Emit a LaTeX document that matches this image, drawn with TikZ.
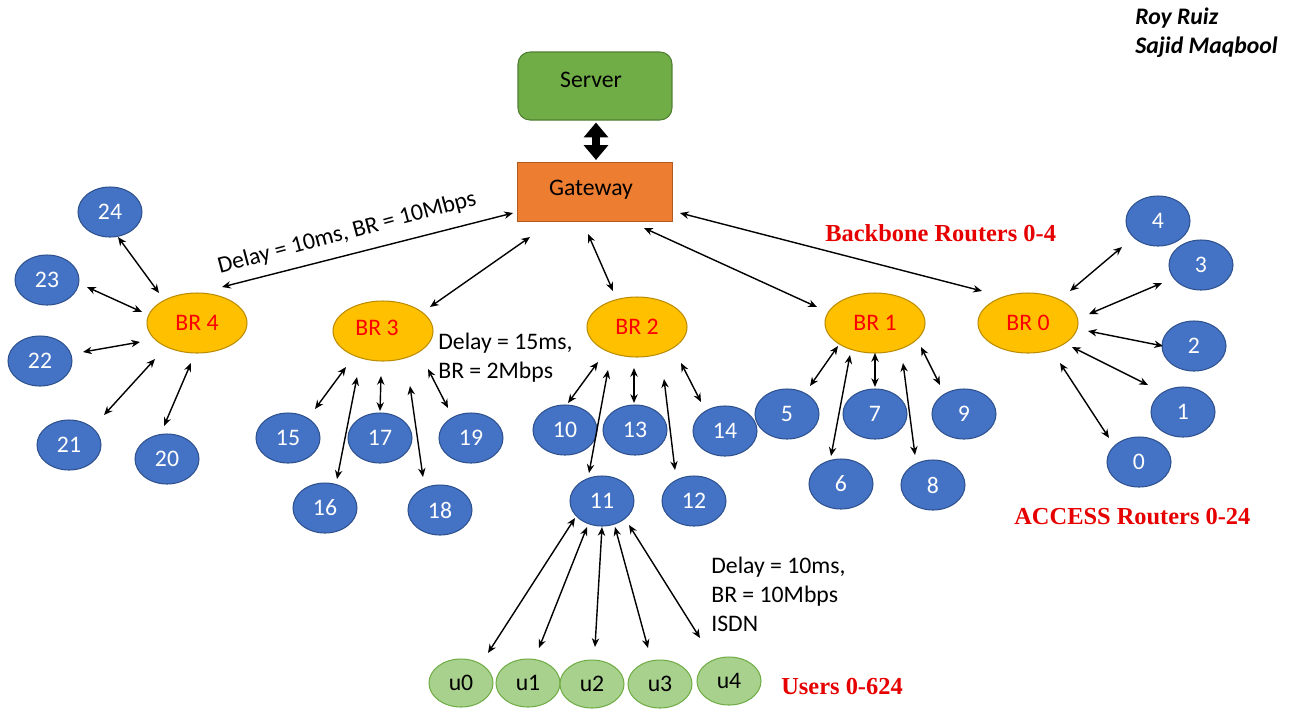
\documentclass[tikz,border=0pt]{standalone}
\usepackage{fontspec}
\setmainfont{Carlito}
\newfontfamily\tnr{Liberation Serif}
\usetikzlibrary{shapes.geometric,arrows.meta,calc}
\definecolor{accblue}{HTML}{4472C4}
\definecolor{accborder}{HTML}{2F528F}
\definecolor{brgold}{HTML}{FFC000}
\definecolor{brborder}{HTML}{BC8C00}
\definecolor{srvgreen}{HTML}{70AD47}
\definecolor{srvborder}{HTML}{507E32}
\definecolor{gwor}{HTML}{ED7D31}
\definecolor{gwborder}{HTML}{AE5A21}
\definecolor{usrfill}{HTML}{A9D18E}
\definecolor{usrborder}{HTML}{70AD47}
\definecolor{lblred}{HTML}{FF0000}
\definecolor{serred}{HTML}{E60000}
\newcommand{\basefont}{\fontsize{13.5}{16}\selectfont}
\begin{document}
\begin{tikzpicture}[x=0.02cm,y=-0.02cm,
  every node/.style={font=\basefont},
  acc/.style={ellipse, fill=accblue, draw=accborder, line width=0.6pt,
    minimum width=1.28cm, minimum height=1.0cm, inner sep=0pt, text=white},
  brn/.style={ellipse, fill=brgold, draw=brborder, line width=0.6pt,
    minimum width=2.0cm, minimum height=1.2cm, inner sep=0pt, text=lblred},
  usr/.style={ellipse, fill=usrfill, draw=usrborder, line width=0.6pt,
    minimum width=1.28cm, minimum height=0.96cm, inner sep=0pt, text=black},
  srv/.style={rectangle, rounded corners=0.24cm, fill=srvgreen, draw=srvborder,
    line width=0.6pt, minimum width=3.08cm, minimum height=1.36cm},
  gw/.style={rectangle, fill=gwor, draw=gwborder, line width=0.6pt,
    minimum width=3.1cm, minimum height=1.18cm},
  link/.style={>={Stealth[length=5pt,width=4.2pt]}, <->, line width=0.8pt},
  bigarrow/.style={>={Triangle[length=8.5pt,width=13.6pt]}, <->, line width=5pt},
  redlbl/.style={font=\tnr\bfseries\fontsize{13.9}{16}\selectfont, text=serred, anchor=west, inner sep=0pt},
  notes/.style={align=left, anchor=west, inner sep=0pt, font=\fontsize{13.5}{16.6}\selectfont}
]
\useasboundingbox (0,0) rectangle (1289,725);
\fill[white] (0,0) rectangle (1289,725);

% server and gateway
\node[srv] (server) at (595,86) {};
\node (servertext) at (591,80) {Server};
\node[gw] (gateway) at (595,192) {};
\node (gwtext) at (591,190) {Gateway};
\draw[bigarrow] ($(server.south)+(1,2)$) -- ($(gateway.north)+(1,-2)$);

% backbone routers
\node[brn] (br4) at (197,323) {BR 4};
\node[brn] (br3) at (383,331) {};
\node (br3text) at (377,328) {\textcolor{lblred}{BR 3}};
\node[brn] (br2) at (637,327) {BR 2};
\node[brn] (br1) at (875,323) {BR 1};
\node[brn] (br0) at (1028,323) {BR 0};

% access routers
\node[acc] (n24) at (110,212) {24};
\node[acc] (n23) at (47,280) {23};
\node[acc] (n22) at (40,361) {22};
\node[acc] (n21) at (69,445) {21};
\node[acc] (n20) at (167,459) {20};
\node[acc] (n15) at (288,438) {15};
\node[acc] (n16) at (325,508) {16};
\node[acc] (n17) at (380,438) {17};
\node[acc] (n18) at (440,510) {18};
\node[acc] (n19) at (471,438) {19};
\node[acc] (n10) at (565,430) {10};
\node[acc] (n13) at (635,430) {13};
\node[acc] (n14) at (725,431) {14};
\node[acc] (n11) at (602,501) {11};
\node[acc] (n12) at (694,501) {12};
\node[acc] (n5) at (787,414) {5};
\node[acc] (n6) at (841,484) {6};
\node[acc] (n7) at (875,414) {7};
\node[acc] (n8) at (933,485) {8};
\node[acc] (n9) at (964,414) {9};
\node[acc] (n4) at (1158,221) {4};
\node[acc] (n3) at (1201,265) {3};
\node[acc] (n2) at (1194,346) {2};
\node[acc] (n1) at (1183,412) {1};
\node[acc] (n0) at (1139,462) {0};

% users
\node[usr] (u0) at (461,683) {u0};
\node[usr] (u1) at (528,683) {u1};
\node[usr] (u2) at (592,684) {u2};
\node[usr] (u3) at (660,684) {u3};
\node[usr] (u4) at (729,681) {u4};

% connectors
\foreach \a/\ax/\ay/\b/\bx/\by in {
  gateway/-82/21/br4/25/-36, gateway/-65/45/br3/47/-24, gateway/-7/42/br2/-24/-36,
  gateway/49/36/br1/-58/-16, gateway/85/21/br0/-46/-32,
  n24/8/25/br4/-38/-30, n23/40/7/br4/-55/-11, n22/43/-9/br4/-57/19,
  n21/35/-30/br4/-42/36, n20/-3/-33/br4/-6/40,
  n15/27/-29/br3/-37/36, n16/12/-29/br3/-26/46, n17/0/-27/br3/-2/45,
  n18/-17/-33/br3/27/55, n19/-23/-30/br3/45/38,
  n10/3/-27/br2/-39/35, n11/-13/-28/br2/-29/43, n13/-1/-27/br2/-3/41,
  n12/-19/-31/br2/27/52, n14/-24/-29/br2/44/36,
  n5/23/-28/br1/-37/23, n6/-10/-28/br1/-25/32, n7/0/-27/br1/0/30,
  n8/-18/-30/br1/28/40, n9/-24/-29/br1/46/24,
  n4/-36/26/br0/42/-32, n3/-39/18/br0/61/-9, n2/-31/0/br0/60/8,
  n1/-35/-27/br0/44/24, n0/-30/-24/br0/32/40,
  u0/27/-30/n11/-27/17, u1/11/-35/n11/-15/26, u2/3/-37/n11/0/26,
  u3/-12/-36/n11/13/26, u4/-29/-43/n11/27/24}
  \draw[link] ($(\a)+(\ax,\ay)$) -- ($(\b)+(\bx,\by)$);

% labels
\node[rotate=15] (lblbr4) at (347,233) {Delay = 10ms, BR = 10Mbps};
\node[notes] (lblbr3) at (438,358) {Delay = 15ms,\\BR = 2Mbps};
\node[notes] (lblusr) at (711,594) {Delay = 10ms,\\BR = 10Mbps\\ISDN};
\node[redlbl] (lblbackbone) at (825,233) {Backbone Routers 0-4};
\node[redlbl] (lblaccess) at (1014,517) {ACCESS Routers 0-24};
\node[redlbl] (lblusers) at (781,686) {Users 0-624};
\node[anchor=west, inner sep=0pt, font=\bfseries\itshape\basefont] (auth1) at (1135,18) {Roy Ruiz};
\node[anchor=west, inner sep=0pt, font=\bfseries\itshape\basefont] (auth2) at (1135,47) {Sajid Maqbool};
\end{tikzpicture}
\end{document}
